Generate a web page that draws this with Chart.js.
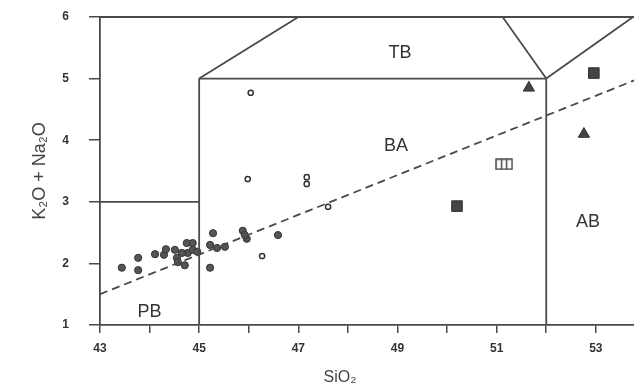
<!DOCTYPE html>
<html>
<head>
<meta charset="utf-8">
<script src="https://cdn.jsdelivr.net/npm/chart.js@4.4.1/dist/chart.umd.min.js"></script>
<style>
body{margin:0;background:#fff}
canvas{display:block}
</style>
</head>
<body>
<canvas id="myChart" width="634" height="392"></canvas>
<script>
// axes
let xMin = 43, xMax = 53.77
let yMin = 1, yMax = 6
let xTickValues = [43,44,45,46,47,48,49,50,51,52,53]
let xTickLabels = ["43","","45","","47","","49","","51","","53"]
let yTickValues = [1,2,3,4,5,6]

// field boundaries (SiO2, K2O+Na2O)
let lineFrameTop = [[43,6],[53.77,6]]
let linePB = [[43,3],[45,3]]
let line45 = [[45,1],[45,5]]
let line5 = [[45,5],[52,5]]
let line52 = [[52,1],[52,5]]
let lineTBleft = [[45,5],[47,6]]
let lineTBright = [[52,5],[51.12,6]]
let lineAB = [[52,5],[53.75,6]]
let lineDivide = [[43,1.5],[53.77,4.97]]

// samples
let filledCircles = [
  [43.44,1.93],[43.77,2.09],[43.77,1.89],[44.11,2.15],[44.29,2.14],[44.33,2.23],
  [44.51,2.22],[44.55,2.09],[44.57,2.02],[44.71,1.97],[44.75,2.33],[44.77,2.17],
  [44.87,2.33],[44.87,2.22],[44.96,2.19],[44.65,2.17],
  [45.28,2.49],[45.22,2.30],[45.36,2.25],[45.52,2.27],[45.22,1.93],
  [45.88,2.53],[45.96,2.40],[45.92,2.46],[46.59,2.46]
]
let openCircles = [[46.04,4.77],[45.98,3.37],[47.17,3.40],[47.17,3.29],[47.6,2.92],[46.27,2.12]]
let filledSquares = [[50.2,2.93],[52.96,5.09]]
let barredSquares = [[51.15,3.61]]
let triangles = [[51.65,4.85],[52.76,4.10]]

let fieldNames = ["TB","BA","PB","AB"]
let fieldX = [49.05,48.97,44.0,52.84]
let fieldY = [5.42,3.91,1.21,2.67]

function pts(arr){
    return arr.map(p=>({x:p[0],y:p[1]}))
}

let ink = "#4a4a4a"

// square with two dividers, like the reference symbol
let barred = document.createElement("canvas")
barred.width = 18
barred.height = 12
let bctx = barred.getContext("2d")
bctx.strokeStyle = ink
bctx.lineWidth = 1.5
bctx.strokeRect(1,1,16,10)
bctx.beginPath()
bctx.moveTo(6.5,1); bctx.lineTo(6.5,11)
bctx.moveTo(11.5,1); bctx.lineTo(11.5,11)
bctx.stroke()

function boundary(arr, dash){
    return {
        type:"line",
        data:pts(arr),
        borderColor:ink,
        borderWidth:1.8,
        borderDash:dash||[],
        pointRadius:0,
        fill:false,
        clip:false
    }
}

let fieldLabels = {
    id:"fieldLabels",
    afterDatasetsDraw(chart){
        let ctx = chart.ctx
        let xs = chart.scales.x, ys = chart.scales.y
        ctx.save()
        ctx.fillStyle = "#333"
        ctx.font = "18px 'Liberation Sans', Arial, sans-serif"
        ctx.textAlign = "center"
        ctx.textBaseline = "middle"
        fieldNames.forEach((name,i)=>{
            ctx.fillText(name, xs.getPixelForValue(fieldX[i]), ys.getPixelForValue(fieldY[i]))
        })
        ctx.font = "16px 'Liberation Sans', Arial, sans-serif"
        ctx.fillStyle = "#444"
        ctx.fillText("SiO₂", chart.chartArea.left+240, chart.chartArea.bottom+53)
        ctx.restore()
    }
}

new Chart("myChart", {
  type:"scatter",
  data:{
    datasets:[
      boundary(lineFrameTop),
      boundary(linePB),
      boundary(line45),
      boundary(line5),
      boundary(line52),
      boundary(lineTBleft),
      boundary(lineTBright),
      boundary(lineAB),
      boundary(lineDivide,[8,5]),
      {data:pts(filledCircles), pointStyle:"circle", pointRadius:3.6, backgroundColor:"#555", borderColor:"#333", borderWidth:1, clip:false},
      {data:pts(openCircles), pointStyle:"circle", pointRadius:2.6, backgroundColor:"#fff", borderColor:"#333", borderWidth:1.5, clip:false},
      {data:pts(filledSquares), pointStyle:"rect", pointRadius:7.5, backgroundColor:"#444", borderColor:"#333", borderWidth:1, clip:false},
      {data:pts(barredSquares), pointStyle:barred, clip:false},
      {data:pts(triangles), pointStyle:"triangle", pointRadius:6.5, backgroundColor:"#444", borderColor:"#333", borderWidth:1, clip:false}
    ]
  },
  options:{
    responsive:false,
    animation:false,
    events:[],
    layout:{autoPadding:false, padding:{top:17,right:0,left:0,bottom:0}},
    plugins:{legend:{display:false},tooltip:{enabled:false}},
    scales:{
      x:{
        type:"linear",
        min:xMin,
        max:xMax,
        afterBuildTicks:(scale)=>{scale.ticks = xTickValues.map(v=>({value:v}))},
        afterFit:(scale)=>{
            scale.height = 67
            scale.paddingLeft = 0
            scale.paddingRight = 0
        },
        grid:{drawOnChartArea:false, drawTicks:true, tickLength:8, color:ink, lineWidth:1.5},
        border:{display:true, color:ink, width:1.8},
        ticks:{
          padding:8,
          color:"#333",
          font:{family:"'Liberation Sans', Arial, sans-serif", size:12, weight:"bold"},
          callback:(v)=>xTickLabels[xTickValues.indexOf(v)] ?? ""
        }
      },
      y:{
        type:"linear",
        min:yMin,
        max:yMax,
        afterBuildTicks:(scale)=>{scale.ticks = yTickValues.map(v=>({value:v}))},
        afterFit:(scale)=>{
            scale.width = 100
            scale.paddingTop = 0
            scale.paddingBottom = 0
        },
        grid:{drawOnChartArea:false, drawTicks:true, tickLength:11, color:ink, lineWidth:1.5},
        border:{display:true, color:ink, width:1.8},
        ticks:{
          padding:20,
          color:"#333",
          font:{family:"'Liberation Sans', Arial, sans-serif", size:12, weight:"bold"}
        },
        title:{
          display:true,
          text:"K₂O + Na₂O",
          color:"#444",
          padding:{top:29,bottom:0},
          font:{family:"'Liberation Sans', Arial, sans-serif", size:18}
        }
      }
    }
  },
  plugins:[fieldLabels]
});
</script>
</body>
</html>
